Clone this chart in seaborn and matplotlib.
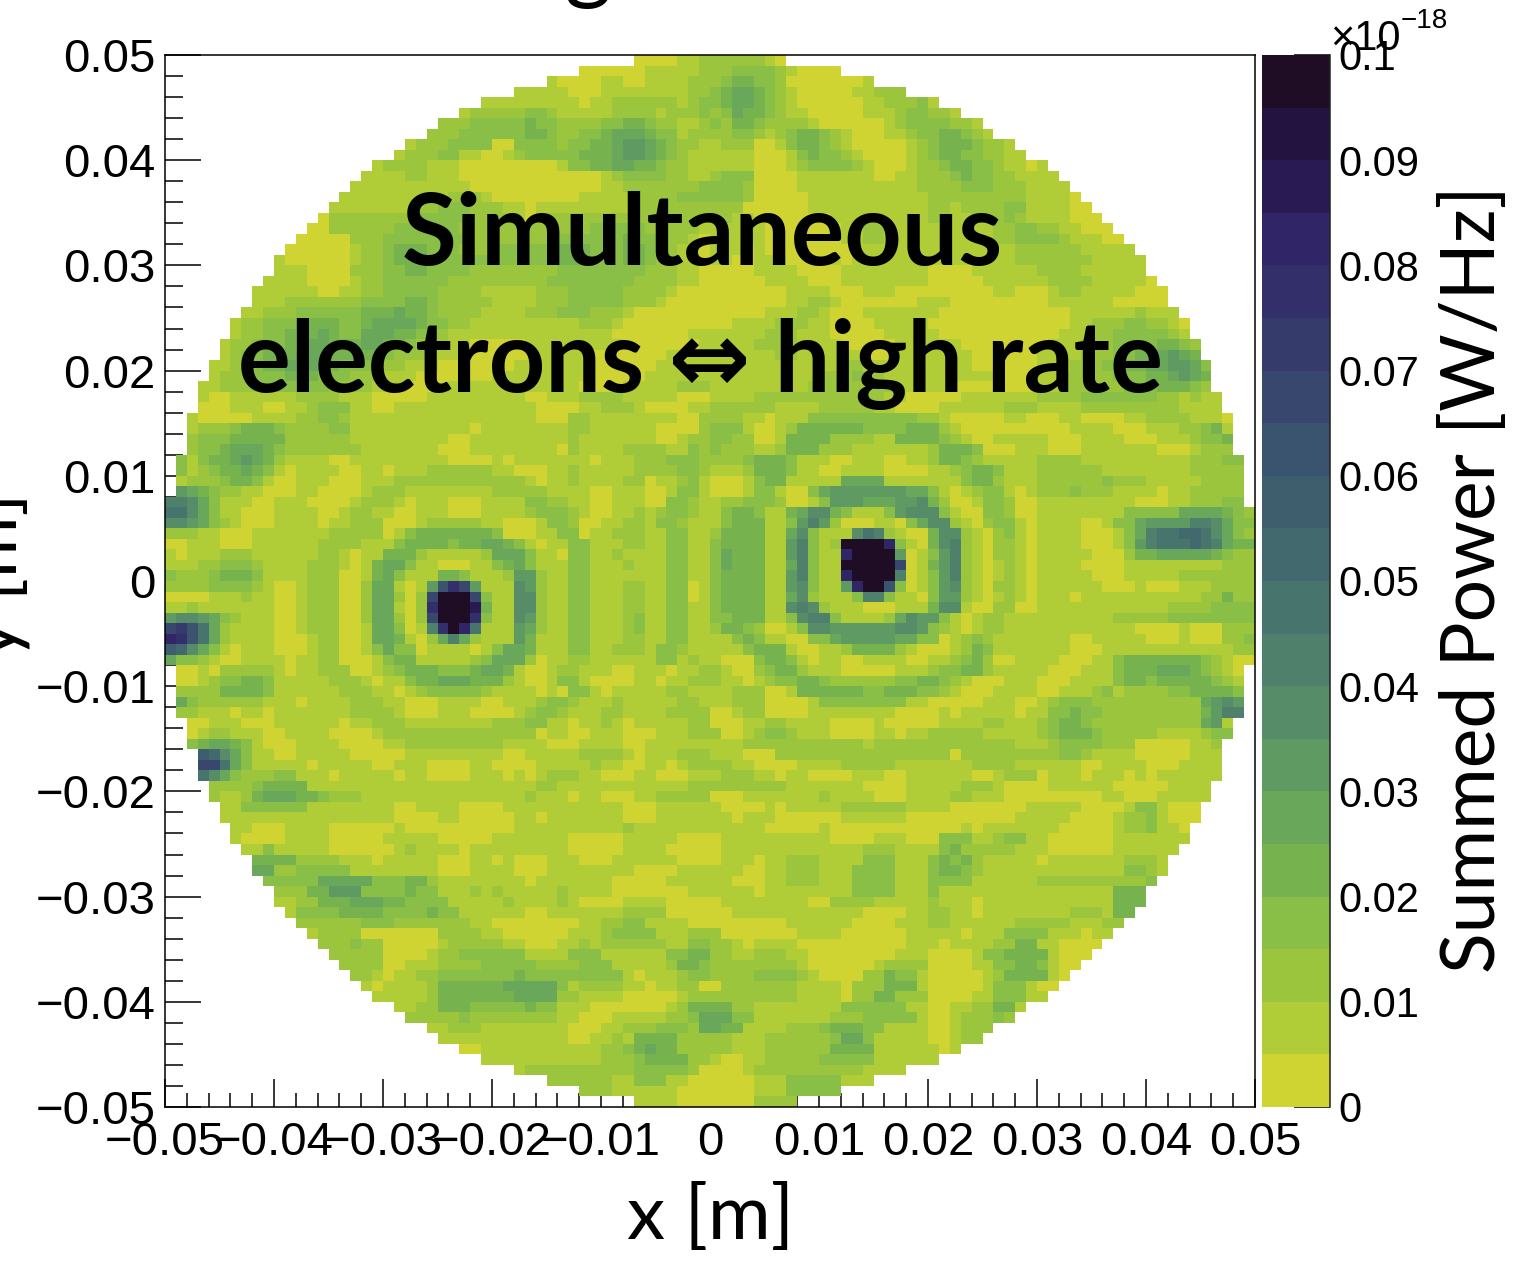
import numpy as np
import pandas as pd
import matplotlib
matplotlib.use('Agg')
import matplotlib.pyplot as plt
from matplotlib.colors import ListedColormap
import seaborn as sns

# palette bands, bottom of the colour bar to the top
band_colors = ['#cfd433', '#b0cd38', '#9ac53c', '#89bf46', '#76b34f', '#69a75a', '#5f9a63', '#568d68',
               '#4e806b', '#47746d', '#426a6e', '#3e5e6e', '#3a536e', '#37476d', '#353c6c', '#332f6b',
               '#302566', '#2a1a54', '#231340', '#1e0d25']

x_tick_labels = ['\u22120.05', '\u22120.04', '\u22120.03', '\u22120.02', '\u22120.01', '0', '0.01', '0.02', '0.03', '0.04', '0.05']
y_tick_labels = x_tick_labels[::-1]
bar_ticks = [0, 0.01, 0.02, 0.03, 0.04, 0.05, 0.06, 0.07, 0.08, 0.09, 0.1]
bar_labels = ['0', '0.01', '0.02', '0.03', '0.04', '0.05', '0.06', '0.07', '0.08', '0.09', '0.1']

# one base-20 band per bin, top row first, '.' = empty bin
# groups of ten so the columns stay lined up
D = '.' * 10
level_rows = [
    f"{D} {D} {D} {D} ...0000112 2222210... {D} {D} {D} {D}",
    f"{D} {D} {D} ........00 0000111112 2233332100 00........ {D} {D} {D}",
    f"{D} {D} {D} .....10000 1100111122 2344332000 00001..... {D} {D} {D}",
    f"{D} {D} {D} ..11111000 1111111122 3455432100 00011222.. {D} {D} {D}",
    f"{D} {D} .........1 1111111101 1222222123 3455432100 0000112223 1......... {D} {D}",
    f"{D} {D} .......122 2223321111 1222212223 2354432110 0000111233 221....... {D} {D}",
    f"{D} {D} .....22233 3334332222 3344322112 3244322221 0000001233 33221..... {D} {D}",
    f"{D} {D} ....222333 3334432233 4555433122 2233212344 3210001123 344321.... {D} {D}",
    f"{D} {D} ..12223333 0033332334 4566543221 1222001344 3210000012 34443221.. {D} {D}",
    f"{D} {D} .122233110 0123333344 4566543211 1111000134 3321000012 344332211. {D} {D}",
    f"{D} .........1 2222111000 0000001334 4554432211 1111000123 3332100012 2344332110 1......... {D}",
    f"{D} ........11 1122111000 0000000000 1233332211 2333000011 1111100112 2234332211 11........ {D}",
    f"{D} .......111 1111111100 0000000000 1122222223 3332000011 1111111112 2223332221 111....... {D}",
    f"{D} ......1111 1111112221 0000000011 1112222333 3332000001 1111111111 2222222221 1110...... {D}",
    f"{D} .....11111 1112233322 2110111111 1112222222 2220000001 1111111111 2212222331 11100..... {D}",
    f"{D} ....022222 2223333322 2210122222 2222222222 2211000000 0111221111 2211222321 111000.... {D}",
    f"{D} ...0022222 2333433222 2222222223 3333222221 1111100000 0011221111 1111112233 2211000... {D}",
    f"{D} ..00000222 3333333322 2222223333 3343322210 1111100000 0011221111 1111112233 33211100.. {D}",
    f"{D} .000000122 3444333222 3333334443 3344322110 1110100000 0001111111 1111111122 222211111. {D}",
    f"{D} 1000000122 3444333333 3333344443 3344322110 1100111000 0101111111 1111111122 2222211111 {D}",
    f"{D} 1110000222 3344333322 2222223333 3333222110 0000111100 0011111111 0000111111 2222111111 {D}",
    f".........1 1110000122 3333332222 2222233333 3332222110 0000011110 0011111111 0000011111 1222211111 0.........",
    f"........11 1111001122 3333322221 1111222333 3322221000 0000000111 1000111000 0000001100 0122111110 00........",
    f"........11 1222222233 3344322222 1111222333 3322210000 0000000112 2100000001 1100000000 0111111000 00........",
    f".......112 2233333344 4544322221 1112223332 2210000000 0000011122 1000111111 1000000000 0001111112 111.......",
    f"......1223 3344443345 5554332211 1111111122 2100000000 0011112221 1000011111 0000000000 0001122233 2210......",
    f"......1223 3444543355 5443221111 1111111111 1000000011 1111122211 1000001111 1000000000 0011122333 3321......",
    f".....12233 3445544455 4432221100 0001111111 1100000001 1111222211 1100000111 1110000000 0111222333 34432.....",
    f".....12334 4455544444 3222111000 0000111110 0000001111 1111112211 1111000111 1111000000 1111222334 45654.....",
    f"....112334 4555543333 2211100000 0011111110 0000011111 1111111111 1122111111 1111000000 1112223344 556653....",
    f"....122233 3444333222 1110000000 1111111110 0000111111 1111111111 2223221111 1111110000 1122222333 445654....",
    f"...1122223 3333322221 1100001111 1111111100 0011111222 1111111112 2222222111 1100000000 1122222233 344432....",
    f"...1001111 1122221110 0000111111 1110011122 2211111000 1111222222 2222221100 0001111111 2222333333 3221211...",
    f"...0001110 0112333110 0111111111 1111000011 2221000011 2222221111 2222211000 0111111222 1111222222 2221111...",
    f"..10000011 1122332111 1111111111 1111000221 1111111002 2221101113 3333333332 2100000110 0011000011 22221110..",
    f"..12223444 3222233111 1111111101 1111111221 1111100002 3331001244 4444333344 4210000000 0001111000 11122341..",
    f"..23334444 4222222111 1111110011 1111111211 1111100122 3322001444 4222211444 4321001111 1000111100 01112334..",
    f"..23345554 3222222211 1111100011 1111110211 1122221132 3222112444 2221111111 2444300011 1000111111 10001222..",
    f".313445654 2111100111 1111110000 1011111110 1112223332 2223444311 1001110011 2443211111 2222111111 111122233.",
    f".312344543 1011110011 0111222222 1100011211 1112222332 1112444311 0011110000 1123443111 2222221111 111122222.",
    f".122234431 0011100011 1222222222 2221011211 1122011231 0001344111 1155551111 1113442111 2222223222 111112222.",
    f".654322110 0011000012 2211111111 2222211110 0111001331 0001331003 5666666655 3101233101 2223222111 101122222.",
    f"8875311100 1110000122 2101110001 1113322110 0111003321 1223332001 3666555667 4200133200 1111111110 001122233.",
    f"9975311000 1111001221 1001110001 1112333210 0112123321 1344311457 7431113677 7310033200 1111111133 3335555432",
    f"7765321000 1111011222 0001222221 1000133200 1122133211 1344411368 6200011035 7721023310 1111001335 6666887533",
    f"2221100011 1111122222 0134444444 3000113301 1222113311 2444411573 1117982100 4772102310 1111000135 899aa97532",
    f"0011100011 1111222211 1344443445 5431011331 1122113311 3444411683 12jjjjg310 4782102210 1111000136 8999a98544",
    f"1011122211 1111221011 4442111112 5553110331 1211113311 3544411683 11gjjjj601 3682102210 1111100024 4555554322",
    f"1112233321 1112221014 5531100011 3453111331 1121113311 3544411583 11jjjjjd01 4682101210 1111000011 1111111222",
    f"3222344431 1112220014 5311144311 1266211331 1111113311 3444411683 11gjjjj801 3682101210 1111100011 1112222222",
    f"2222333321 0012220025 51016cfd61 1176211331 1122113301 3444411673 116gjjc301 3672102210 1111110001 0001112222",
    f"0000111211 0012220025 5202djjjd3 1177211331 1122113301 3444411572 1113883110 3662101210 1110111111 1111122422",
    f"1121111111 0012220025 5102fjjjh4 1177211331 1122113311 3444411787 2111000111 4771002200 1111111111 1122223333",
    f"6776532111 0012220025 5202djjjf3 1176211331 1123113311 3344411378 8311112576 6310122111 1111111222 2233333333",
    f"dec9521111 0012220015 53018fjg91 1165211331 1123113311 2443200137 7666666776 3210122111 1111111110 0001000222",
    f"gfc9521111 0001220015 5410258521 1164111331 1122113311 1134311003 3566666553 3012321111 1110011111 0001000223",
    f"ba75310111 0001220013 5330111101 3554111331 1222133211 1113444100 1124444210 0012431111 1110001111 1111111122",
    f"5332100111 1011220001 3441111123 5552011221 1111133121 1000344310 1100111100 1123420011 1100011344 4444432100",
    f".001022222 1011222001 2344433345 5410012211 1001110112 2100234421 1100000111 2334421111 1000111344 455543210.",
    f".001233443 1111122210 1134455544 4210013310 0001101122 2110123344 3222222334 4321000111 0001111344 344444321.",
    f".222244443 1111112221 1012333332 1111010331 0111112211 1122200144 4444334443 3210001111 0011123122 223344443.",
    f".532222221 1101111222 1100011110 0111233211 1211111221 1122200001 3333333311 0000011100 1233322222 222225676.",
    f".221110110 1111111222 2100011100 0012332111 2211112222 0012200001 1111111000 0101111101 1334332222 222224688.",
    f"..00111000 1111110112 2211111111 2223311011 2101111122 0001122111 1000010000 0111122111 2344322222 22222561..",
    f"..01221110 0111100001 2222222222 2222011001 1100011122 2001233211 1000011011 2222211111 2344432222 21111233..",
    f"..34554310 0011110000 1122222222 2111100011 1100111111 1112222222 2222122222 2222222211 1233332220 0000112...",
    f"...ba75311 0011111000 0011111111 1001111122 2210111222 1110002222 2222222222 2202222222 2233211110 0000111...",
    f"...dd95311 1110111110 0111000011 0000111112 1100110122 2211000011 1122222111 1111222211 1111001111 0001111...",
    f"...9753222 3311101111 1011000011 1010122211 0001100011 1222110110 0001110011 1111001222 0111011101 0111111...",
    f"....222234 4441111111 1111111111 1111221111 1111111122 2222222111 1111000011 1112221000 0111111000 001111....",
    f"....211245 5544322211 1111111111 1112111011 0001122222 0001111111 2111100011 1122111000 0000001100 011111....",
    f".....11333 3331111111 1001111000 0111111111 1100011111 1000010111 1122222211 1100000001 1111000013 31000.....",
    f".....11111 1111111111 1000011000 0011011111 1100011111 1101110000 0011111100 0000000011 1110000122 31000.....",
    f"......1100 0111100000 0100000000 0011111111 1121111111 1111100000 1000000000 0001011111 1100000122 3110......",
    f"......1000 0111100000 1111100000 1111111000 0011111000 0111111111 1000011100 0333112331 1000000111 1111......",
    f".......113 1111100000 0121111011 1111111000 0011110000 0111111111 1111222111 1342222211 1000000111 111.......",
    f"........44 4422221110 1111100011 0100011100 0111111000 0111011222 1111333111 3434211111 0111111122 21........",
    f"........55 2233333111 1111100011 1100011111 1110000111 1110011222 1113333111 3443211111 1111111133 21........",
    f".........3 3333555553 3344211111 1110111111 1000001111 1100011222 1113333111 3333111111 2222222222 3.........",
    f"{D} 2224466633 3343311121 2111112111 1000000011 1111011111 1113333111 3111111111 1111111444 {D}",
    f"{D} 1122444555 4433331111 1211112100 0011110000 0111111110 0222211111 2111011111 1111111444 {D}",
    f"{D} .133334444 3333433111 1110011111 1122220000 0011111111 1111000011 2211011111 111222144. {D}",
    f"{D} ..22222233 3222222211 0000000011 2233111100 0000000111 1110000111 2211111122 22211122.. {D}",
    f"{D} ...1222200 0000022221 1000000111 2333311122 2000000011 1100000011 1110111333 3111011... {D}",
    f"{D} ....222322 0000012222 2110001121 2222221133 2210111100 0000000011 1011112244 110000.... {D}",
    f"{D} .....22222 0000122333 3331111333 1111113344 2211222110 0000000111 0000133444 41000..... {D}",
    f"{D} ......2222 0011122223 3333222233 3111112443 2222222210 0000012222 0000113344 3100...... {D}",
    f"{D} .......221 0112233333 3343333333 3310111233 2222333321 0000224331 0000012444 410....... {D}",
    f"{D} ........10 1111244444 4555553122 2211011220 0222222211 1102224441 0000013331 00........ {D}",
    f"{D} .........1 1111244444 4455552211 1100000122 2222222211 1102244222 0000113331 1......... {D}",
    f"{D} {D} .112244433 3334331110 0000001244 4422111111 1133333311 001122441. {D} {D}",
    f"{D} {D} ..22222322 2222221100 0111112235 5533111111 1222333331 00122232.. {D} {D}",
    f"{D} {D} ....112221 1111111000 1122233325 5441111222 3444331111 001222.... {D} {D}",
    f"{D} {D} .....11111 1111111001 1214444222 2211122222 2355311111 00122..... {D} {D}",
    f"{D} {D} .......001 1111111111 2234544222 2211122222 2444411111 101....... {D} {D}",
    f"{D} {D} .........1 1111111111 2223444422 1001122222 3333311111 1......... {D} {D}",
    f"{D} {D} {D} ..12222222 2223333320 0001222222 22221111.. {D} {D} {D}",
    f"{D} {D} {D} .....22222 2113331100 0000111333 33111..... {D} {D} {D}",
    f"{D} {D} {D} ........22 2111111000 0000111333 33........ {D} {D} {D}",
    f"{D} {D} {D} {D} ...1111000 00002222.. {D} {D} {D} {D}",
]

# bands are 0.005 wide, a bin sits in the middle of its band
power_rows = []
for row in level_rows:
    cells = row.replace(' ', '')[:100].ljust(100, '.')
    power_rows.append([np.nan if c == '.' else (int(c, 20) + 0.5) * 0.005 for c in cells])
power = pd.DataFrame(power_rows)

sns.set_style('white')
plt.rcParams['font.family'] = ['Liberation Sans', 'DejaVu Sans']
plt.rcParams['text.color'] = 'black'
plt.rcParams['xtick.labelcolor'] = 'black'
plt.rcParams['ytick.labelcolor'] = 'black'

W, H = 1530, 1272
fig = plt.figure(figsize=(W / 100, H / 100), dpi=100)
ax = fig.add_axes([165 / W, 1 - 1107 / H, 1090 / W, 1052 / H])
cax = fig.add_axes([1262 / W, 1 - 1107 / H, 68 / W, 1052 / H])

sns.heatmap(power, ax=ax, cbar_ax=cax, cmap=ListedColormap(band_colors), vmin=0, vmax=0.1,
            xticklabels=False, yticklabels=False)

for spine in ax.spines.values():
    spine.set_visible(True)
    spine.set_color('black')
    spine.set_linewidth(1.1)

major = np.arange(0, 101, 10)
minor = np.arange(0, 101, 2)
ax.set_xticks(major)
ax.set_xticklabels(x_tick_labels, rotation=0)
ax.set_yticks(major)
ax.set_yticklabels(y_tick_labels, rotation=0)
ax.set_xticks(minor, minor=True)
ax.set_yticks(minor, minor=True)
ax.tick_params(axis='x', which='major', direction='in', length=20, width=1.1, labelsize=34, pad=10, bottom=True, color='black', labelcolor='black')
ax.tick_params(axis='x', which='minor', direction='in', length=10, width=1.1, bottom=True, color='black')
ax.tick_params(axis='y', which='major', direction='in', length=26, width=1.1, labelsize=34, pad=7, left=True, color='black', labelcolor='black')
ax.tick_params(axis='y', which='minor', direction='in', length=13, width=1.1, left=True, color='black')

cbar = ax.collections[0].colorbar
cbar.set_ticks(bar_ticks)
cbar.set_ticklabels(bar_labels)
cbar.minorticks_off()
cbar.outline.set_visible(False)
cbar.ax.spines['right'].set_visible(True)
cbar.ax.spines['right'].set_linewidth(1.1)
cbar.ax.spines['right'].set_color('#222222')
cbar.ax.tick_params(direction='in', length=26, width=1.1, labelsize=30, pad=6, right=True, color='black', labelcolor='black')


def px_text(x, y, s, **kw):
    return fig.text(x / W, 1 - y / H, s, color='black', **kw)


# overlay on the map
px_text(702, 236, 'Simultaneous', family=['Lato', 'DejaVu Sans'], weight='bold', fontsize=72, ha='center', va='center')
px_text(700, 364, 'electrons \u21d4 high rate', family=['Lato', 'DejaVu Sans'], weight='bold', fontsize=71, ha='center', va='center')

# axis titles, the y one runs off the left edge like the reference
px_text(711, 1217, 'x [m]', family='Lato', fontsize=55, ha='center', va='center')
px_text(30, 575, 'y [m]', family='Lato', fontsize=54, rotation=90, ha='right', va='center')
px_text(1473, 579, 'Summed Power [W/Hz]', family='Lato', fontsize=54, rotation=90, ha='center', va='center')

# exponent of the colour scale
px_text(1330, 50, '\u00d710', fontsize=30, ha='left', va='baseline')
px_text(1401, 28, '\u221218', fontsize=20, ha='left', va='baseline')

# bottom of the title that is cut off at the top of the picture
px_text(588, -8, 'g', family='Lato', fontsize=65, ha='center', va='baseline')

fig.savefig('out.png', dpi=100, facecolor='white')
